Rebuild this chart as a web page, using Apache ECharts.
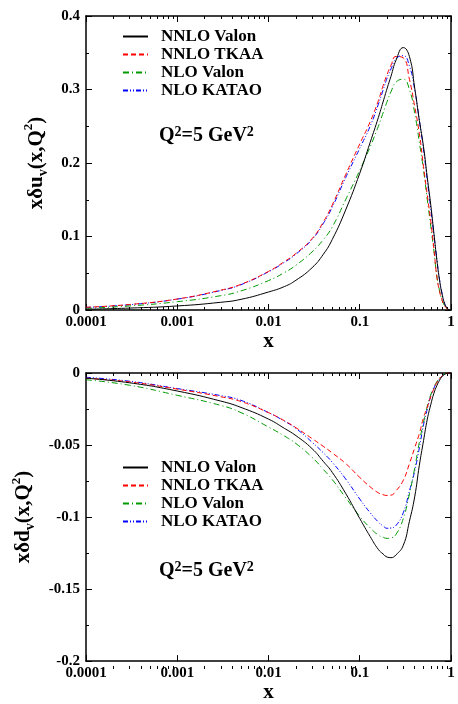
<!DOCTYPE html>
<html>
<head>
<meta charset="utf-8">
<script src="https://cdn.jsdelivr.net/npm/echarts@6/dist/echarts.min.js"></script>
<style>
  html, body { margin: 0; padding: 0; background: #fff; }
  #chart { width: 458px; height: 704px; }
</style>
</head>
<body>
<div id="chart"></div>
<script>
const xs = [0.0001, 0.0003, 0.001, 0.003, 0.005, 0.01, 0.015, 0.02, 0.03, 0.04, 0.05, 0.07, 0.1, 0.13, 0.16, 0.18, 0.2, 0.22, 0.25,
  0.3, 0.35, 0.4, 0.45, 0.5, 0.55, 0.6, 0.65, 0.7, 0.75, 0.8, 0.85, 0.9, 0.95, 1];

// x delta u_v
const uNnloValon = [0.001, 0.0026, 0.0055, 0.0105, 0.0145, 0.0245, 0.032, 0.0405, 0.0575, 0.076, 0.096, 0.136, 0.186, 0.228, 0.262, 0.283, 0.302, 0.318, 0.34,
  0.357, 0.345, 0.302, 0.258, 0.222, 0.18, 0.143, 0.104, 0.068, 0.04, 0.021, 0.009, 0.003, 0.0005, 0];
const uNnloTkaa = [0.0037, 0.0075, 0.015, 0.027, 0.035, 0.0525, 0.066, 0.077, 0.097, 0.12, 0.143, 0.184, 0.226, 0.256, 0.285, 0.305, 0.321, 0.333, 0.345,
  0.343, 0.314, 0.277, 0.24, 0.195, 0.156, 0.121, 0.083, 0.045, 0.025, 0.013, 0.006, 0.002, 0.0003, 0];
const uNloValon = [0.0023, 0.0055, 0.0113, 0.0195, 0.026, 0.04, 0.051, 0.061, 0.079, 0.096, 0.113, 0.15, 0.19, 0.222, 0.25, 0.268, 0.284, 0.297, 0.31,
  0.314, 0.3, 0.268, 0.228, 0.19, 0.15, 0.114, 0.08, 0.046, 0.026, 0.013, 0.006, 0.002, 0.0003, 0];
const uNloKatao = [0.0035, 0.0072, 0.0148, 0.0265, 0.0345, 0.052, 0.065, 0.076, 0.096, 0.118, 0.14, 0.18, 0.22, 0.25, 0.28, 0.299, 0.316, 0.328, 0.342,
  0.346, 0.332, 0.3, 0.258, 0.218, 0.176, 0.138, 0.102, 0.069, 0.041, 0.022, 0.009, 0.003, 0.0005, 0];

// x delta d_v
const dNnloValon = [-0.0036, -0.0068, -0.0125, -0.0195, -0.0239, -0.032, -0.0385, -0.0435, -0.0525, -0.0615, -0.069, -0.0835, -0.101, -0.1135, -0.1225, -0.1256, -0.1278, -0.1282, -0.1262,
  -0.1196, -0.103, -0.086, -0.064, -0.047, -0.032, -0.022, -0.014, -0.0088, -0.005, -0.0025, -0.001, -0.0003, 0, 0];
const dNnloTkaa = [-0.0036, -0.0062, -0.0112, -0.0165, -0.0198, -0.0275, -0.0332, -0.038, -0.0455, -0.051, -0.0555, -0.0628, -0.0725, -0.079, -0.0832, -0.0845, -0.085, -0.0848, -0.0818,
  -0.0745, -0.063, -0.052, -0.042, -0.031, -0.0237, -0.0164, -0.011, -0.0065, -0.004, -0.002, -0.0008, -0.0002, 0, 0];
const dNloValon = [-0.0047, -0.0085, -0.0155, -0.0225, -0.0275, -0.0375, -0.0438, -0.049, -0.0585, -0.067, -0.074, -0.0865, -0.0995, -0.1075, -0.1125, -0.114, -0.1148, -0.1145, -0.112,
  -0.101, -0.084, -0.066, -0.048, -0.034, -0.023, -0.015, -0.0098, -0.006, -0.0035, -0.0018, -0.0007, -0.0002, 0, 0];
const dNloKatao = [-0.003, -0.0057, -0.0108, -0.0157, -0.019, -0.0275, -0.0335, -0.0385, -0.048, -0.0555, -0.062, -0.0735, -0.0875, -0.097, -0.1035, -0.1062, -0.1078, -0.1076, -0.1058,
  -0.097, -0.082, -0.068, -0.052, -0.036, -0.025, -0.016, -0.0105, -0.0065, -0.004, -0.002, -0.0008, -0.0002, 0, 0];

const names = ['NNLO Valon', 'NNLO TKAA', 'NLO Valon', 'NLO KATAO'];
const colors = ['#000000', '#ff0000', '#009900', '#0000ff'];
const dashes = ['solid', [5, 3], [6, 3, 1, 3], [5, 2, 1, 2, 1, 2]];
const xTicks = [0.0001, 0.001, 0.01, 0.1, 1];
const xMinor = [];
for (let d = -4; d < 0; d++) {
  for (let k = 2; k < 10; k++) xMinor.push(+(k * Math.pow(10, d)).toPrecision(2));
}

const serif = 'Liberation Serif';
const frame = { color: '#000', width: 1.5 };
const tickLine = { color: '#000', width: 1 };
const labelFont = { fontFamily: serif, fontWeight: 'bold', fontSize: 15, color: '#000' };
const titleRich = {
  sub: { fontFamily: serif, fontWeight: 'bold', fontSize: 14, lineHeight: 14, verticalAlign: 'bottom', color: '#000' },
  sup: { fontFamily: serif, fontWeight: 'bold', fontSize: 13, lineHeight: 13, verticalAlign: 'top', color: '#000' }
};
const titleFont = { fontFamily: serif, fontWeight: 'bold', fontSize: 21, lineHeight: 28, color: '#000', rich: titleRich };

const fmtX = v => String(+(+v).toPrecision(2));

const mainX = (g, gap) => ({
  type: 'log', logBase: 10, gridIndex: g, min: 0.0001, max: 1, position: 'bottom',
  axisLine: { show: true, onZero: false, lineStyle: frame },
  axisTick: { show: true, inside: true, length: 6, lineStyle: tickLine, customValues: xTicks },
  axisLabel: { ...labelFont, margin: 5, formatter: fmtX, customValues: xTicks, showMinLabel: true, showMaxLabel: true },
  splitLine: { show: false },
  name: 'x', nameLocation: 'middle', nameGap: gap,
  nameTextStyle: { fontFamily: serif, fontWeight: 'bold', fontSize: 21, color: '#000' }
});
const topX = g => ({
  type: 'log', logBase: 10, gridIndex: g, min: 0.0001, max: 1, position: 'top',
  axisLine: { show: true, onZero: false, lineStyle: frame },
  axisTick: { show: true, inside: true, length: 6, lineStyle: tickLine, customValues: xTicks },
  axisLabel: { show: false }, splitLine: { show: false }
});
const minorX = (g, pos) => ({
  type: 'log', logBase: 10, gridIndex: g, min: 0.0001, max: 1, position: pos,
  axisLine: { show: false, onZero: false },
  axisTick: { show: true, inside: true, length: 3, lineStyle: tickLine, customValues: xMinor },
  axisLabel: { show: false }, splitLine: { show: false }
});
const leftY = (g, min, max, step, name, gap) => ({
  type: 'value', gridIndex: g, min, max, interval: step, position: 'left',
  axisLine: { show: true, onZero: false, lineStyle: frame },
  axisTick: { show: true, inside: true, length: 6, lineStyle: tickLine },
  minorTick: { show: true, splitNumber: 2, length: 3, lineStyle: tickLine },
  axisLabel: { ...labelFont, margin: 6, showMinLabel: true, showMaxLabel: true },
  splitLine: { show: false },
  name, nameLocation: 'middle', nameGap: gap, nameRotate: 90, nameTextStyle: titleFont
});
const rightY = (g, min, max, step) => ({
  type: 'value', gridIndex: g, min, max, interval: step, position: 'right',
  axisLine: { show: true, onZero: false, lineStyle: frame },
  axisTick: { show: true, inside: true, length: 6, lineStyle: tickLine },
  minorTick: { show: true, splitNumber: 2, length: 3, lineStyle: tickLine },
  axisLabel: { show: false }, splitLine: { show: false }
});
const hiddenY = (g, min, max) => ({ type: 'value', gridIndex: g, min, max, show: false });

const makeSeries = (ys, xi, yi) => ys.map((vals, i) => ({
  name: names[i], type: 'line', xAxisIndex: xi, yAxisIndex: yi,
  data: xs.map((x, j) => [x, vals[j]]),
  showSymbol: false, symbol: 'none', smooth: 0.5,
  lineStyle: { color: colors[i], width: 1, type: dashes[i] },
  itemStyle: { color: colors[i] },
  z: 10 - i
}));

const legendAt = top => ({
  orient: 'vertical', left: 122, top, padding: 0, itemGap: 1,
  itemWidth: 25, itemHeight: 12, selectedMode: false, data: names,
  itemStyle: { opacity: 0, borderWidth: 0 },
  textStyle: { fontFamily: serif, fontWeight: 'bold', fontSize: 17, lineHeight: 17, color: '#000', padding: [0, 0, 0, 8] }
});

const qText = top => ({
  type: 'text', left: 159, top,
  style: {
    text: 'Q{sup|2}=5 GeV{sup|2}', fill: '#000',
    fontFamily: serif, fontWeight: 'bold', fontSize: 20, lineHeight: 22,
    rich: { sup: { fontFamily: serif, fontWeight: 'bold', fontSize: 14, lineHeight: 12, verticalAlign: 'top', fill: '#000' } }
  }
});

const chart = echarts.init(document.getElementById('chart'), null, { renderer: 'canvas' });
chart.setOption({
  animation: false,
  backgroundColor: '#fff',
  grid: [
    { left: 86, top: 16, width: 365, height: 294 },
    { left: 86, top: 373, width: 365, height: 296 },
    { left: 86, top: 16, width: 365, height: 294 },
    { left: 86, top: 373, width: 365, height: 296 }
  ],
  xAxis: [
    mainX(0, 20), topX(0),
    mainX(1, 19), topX(1),
    minorX(2, 'bottom'), minorX(2, 'top'),
    minorX(3, 'bottom'), minorX(3, 'top')
  ],
  yAxis: [
    leftY(0, 0, 0.4, 0.1, 'xδu{sub|v}(x,Q{sup|2})', 35), rightY(0, 0, 0.4, 0.1),
    leftY(1, -0.2, 0, 0.05, 'xδd{sub|v}(x,Q{sup|2})', 39), rightY(1, -0.2, 0, 0.05),
    hiddenY(2, 0, 0.4), hiddenY(3, -0.2, 0)
  ],
  legend: [legendAt(28), legendAt(459)],
  graphic: [qText(125), qText(560)],
  series: [
    ...makeSeries([uNnloValon, uNnloTkaa, uNloValon, uNloKatao], 0, 0),
    ...makeSeries([dNnloValon, dNnloTkaa, dNloValon, dNloKatao], 2, 2)
  ]
});
</script>
</body>
</html>
